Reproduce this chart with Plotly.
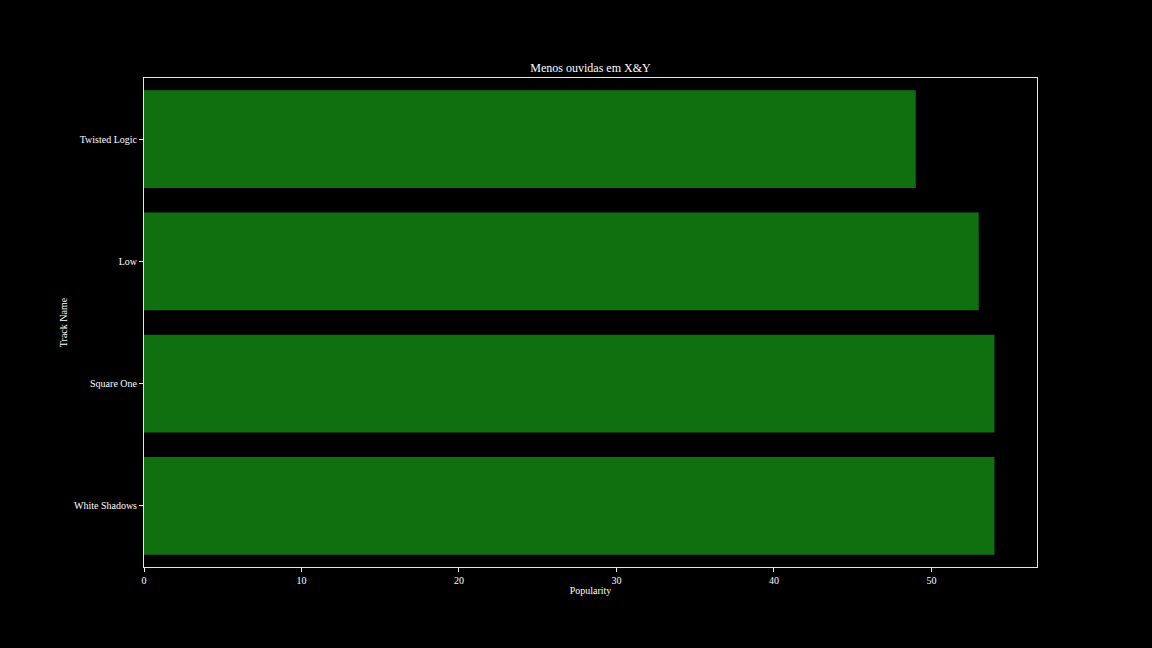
import plotly.graph_objects as go

tracks = ["White Shadows", "Square One", "Low", "Twisted Logic"]
popularity = [54, 54, 53, 49]

fig = go.Figure(go.Bar(
    x=popularity, y=tracks, orientation="h",
    marker=dict(color="#107010", line=dict(width=0)),
    width=0.8,
))

font = dict(family="Liberation Serif, Times New Roman, serif", color="#ffffff", size=10)
axis_common = dict(
    showgrid=False, zeroline=False, showline=True, linecolor="#e6e6e6", linewidth=1,
    mirror=True, ticks="outside", ticklen=4, tickwidth=1, tickcolor="#e6e6e6",
    tickfont=dict(family=font["family"], color="#ffffff", size=10),
)
fig.update_layout(
    width=1152, height=648,
    paper_bgcolor="#000000", plot_bgcolor="#000000",
    margin=dict(l=144, r=115, t=78, b=81),
    font=font,
    title=dict(text="Menos ouvidas em X&Y", x=0.5, xanchor="center", xref="paper",
               y=1, yref="paper", yanchor="bottom", pad=dict(b=6),
               font=dict(family=font["family"], size=12, color="#ffffff")),
    xaxis=dict(range=[0, 56.7], tickvals=[0, 10, 20, 30, 40, 50],
               title=dict(text="Popularity", standoff=1,
                          font=dict(family=font["family"], size=10, color="#ffffff")),
               **axis_common),
    yaxis=dict(range=[-0.5, 3.5], categoryorder="array", categoryarray=tracks,
               title=dict(text="Track Name", standoff=4,
                          font=dict(family=font["family"], size=10, color="#ffffff")),
               **axis_common),
    showlegend=False,
)
fig.write_html("out.html")
